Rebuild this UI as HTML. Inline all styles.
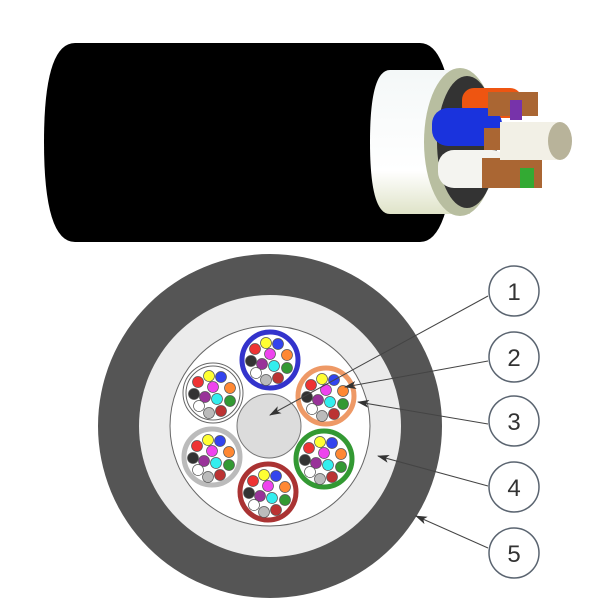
<!DOCTYPE html>
<html><head><style>html,body{margin:0;padding:0;background:#fff}svg{display:block}</style></head>
<body>
<svg width="600" height="600" viewBox="0 0 600 600" xmlns="http://www.w3.org/2000/svg">
<defs>
<linearGradient id="wj" x1="0" y1="0" x2="0" y2="1"><stop offset="0" stop-color="#f4f8f8"/><stop offset="0.7" stop-color="#ffffff"/><stop offset="1" stop-color="#dfe3c8"/></linearGradient>
<marker id="ar" markerWidth="12" markerHeight="8" refX="11" refY="4" orient="auto" markerUnits="userSpaceOnUse"><path d="M0,0 L12,4 L0,8 L3,4 z" fill="#333"/></marker>
<g id="fib">
<circle cx="-4" cy="-17" r="5.5" fill="#ffff33"/>
<circle cx="8" cy="-16" r="5.5" fill="#3344ee"/>
<circle cx="-15" cy="-11" r="5.5" fill="#ee3333"/>
<circle cx="0" cy="-6" r="5.5" fill="#ee44ee"/>
<circle cx="17" cy="-5" r="5.5" fill="#ff8833"/>
<circle cx="-19" cy="1" r="5.5" fill="#333333"/>
<circle cx="-8" cy="4" r="5.5" fill="#993399"/>
<circle cx="4" cy="6" r="5.5" fill="#33eeee"/>
<circle cx="17" cy="8" r="5.5" fill="#339933"/>
<circle cx="-14" cy="13" r="5.5" fill="#ffffff"/>
<circle cx="-4" cy="20" r="5.5" fill="#bbbbbb"/>
<circle cx="8" cy="18" r="5.5" fill="#bb3333"/>
</g>
</defs>
<!-- top cable -->
<path d="M75,43 L420,43 Q450,43 455,142 Q450,242 420,242 L75,242 Q44,242 44,142 Q44,43 75,43 z" fill="#000"/>
<path d="M390,70 L470,70 L470,214 L390,214 Q370,214 370,142 Q370,70 390,70 z" fill="url(#wj)"/>
<ellipse cx="460" cy="142" rx="36" ry="74" fill="#b8bea0"/>
<ellipse cx="467" cy="142" rx="30" ry="66" fill="#333"/>
<rect x="462" y="88" width="60" height="30" rx="12" fill="#ee5511"/>
<rect x="432" y="108" width="70" height="38" rx="16" fill="#1a33dd"/>
<rect x="438" y="150" width="70" height="38" rx="16" fill="#f4f4f0"/>
<rect x="488" y="92" width="50" height="24" fill="#aa6633"/>
<rect x="484" y="128" width="45" height="22" fill="#aa6633"/>
<rect x="482" y="158" width="60" height="30" fill="#aa6633"/>
<rect x="500" y="122" width="60" height="38" fill="#f2f0e6"/>
<ellipse cx="560" cy="141" rx="12" ry="19" fill="#b8b39a"/>
<rect x="510" y="100" width="12" height="20" fill="#7733aa"/>
<rect x="520" y="168" width="14" height="20" fill="#33aa33"/>
<!-- cross section -->
<circle cx="270" cy="426" r="172" fill="#555"/>
<circle cx="270" cy="426" r="131" fill="#ebebeb"/>
<circle cx="270" cy="426" r="100" fill="#fff" stroke="#666" stroke-width="1"/>
<circle cx="269" cy="426" r="32" fill="#dcdcdc" stroke="#777" stroke-width="1"/>
<circle cx="270" cy="360" r="28" fill="#fff" stroke="#3333cc" stroke-width="5"/>
<circle cx="326" cy="396" r="28" fill="#fff" stroke="#ee9966" stroke-width="5"/>
<circle cx="324" cy="459" r="28" fill="#fff" stroke="#339933" stroke-width="5"/>
<circle cx="268" cy="492" r="28" fill="#fff" stroke="#aa3333" stroke-width="5"/>
<circle cx="212" cy="457" r="28" fill="#fff" stroke="#bbbbbb" stroke-width="5"/>
<circle cx="213" cy="393" r="30" fill="#fff" stroke="#666" stroke-width="1"/>
<circle cx="213" cy="393" r="27" fill="#fff" stroke="#666" stroke-width="1"/>
<g stroke="#555" stroke-width="0.7">
<use href="#fib" x="270" y="360"/><use href="#fib" x="326" y="396"/><use href="#fib" x="324" y="459"/>
<use href="#fib" x="268" y="492"/><use href="#fib" x="212" y="457"/><use href="#fib" x="213" y="393"/>
</g>
<!-- leaders -->
<g stroke="#444" stroke-width="1" marker-end="url(#ar)">
<line x1="488" y1="296" x2="270" y2="415"/>
<line x1="488" y1="361" x2="345" y2="387"/>
<line x1="488" y1="424" x2="358" y2="402"/>
<line x1="488" y1="486" x2="378" y2="456"/>
<line x1="488" y1="548" x2="416" y2="516"/>
</g>
<g fill="#fff" stroke="#5a6470" stroke-width="1.5">
<circle cx="514" cy="291" r="25"/><circle cx="514" cy="357" r="25"/><circle cx="514" cy="421" r="25"/><circle cx="514" cy="487" r="25"/><circle cx="514" cy="553" r="25"/>
</g>
<g font-family="Liberation Sans, sans-serif" font-size="24" fill="#333" text-anchor="middle">
<text x="514" y="300">1</text><text x="514" y="366">2</text><text x="514" y="430">3</text><text x="514" y="496">4</text><text x="514" y="562">5</text>
</g>
</svg>
</body></html>
